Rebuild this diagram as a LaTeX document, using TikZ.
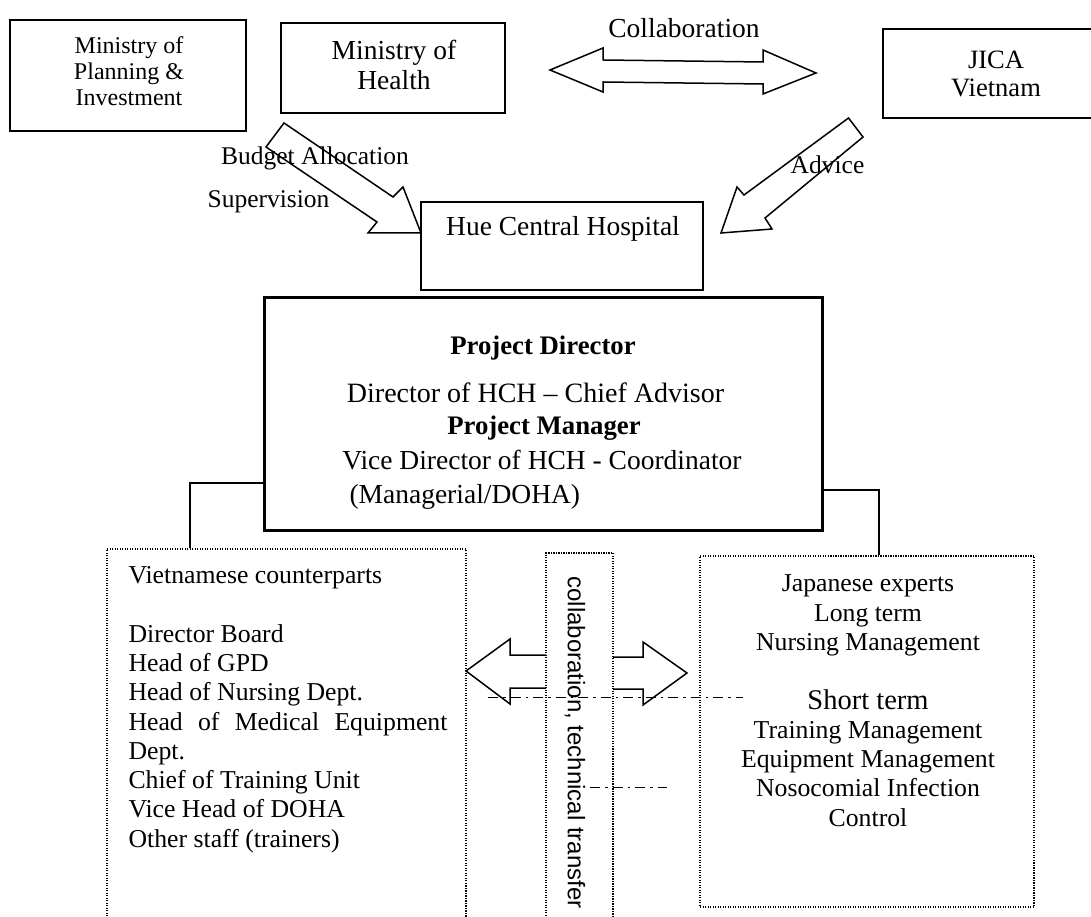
\documentclass[tikz,border=0pt]{standalone}
\usepackage{fontspec}
\setmainfont{Liberation Serif}
\setsansfont{Liberation Sans}
\newcommand\fsz[2]{\fontsize{#1}{#2}\selectfont}
\begin{document}
\begin{tikzpicture}[x=0.4pt,y=-0.4pt,
  boxsz/.style 2 args={minimum width=#1*0.4pt, minimum height=#2*0.4pt},
  solidbox/.style={draw, line width=1pt, inner sep=0pt},
  thinbox/.style={draw, line width=0.7pt, inner sep=0pt},
  thickbox/.style={draw, line width=1.2pt, inner sep=0pt},
  dotbox/.style={draw, line width=0.5pt, dash pattern=on 0.5pt off 0.5pt, inner sep=0pt},
  txt/.style={inner sep=0pt, align=center},
  blockarrow/.style={draw, line width=0.6pt, line join=miter},
  conn/.style={draw, line width=0.7pt},
  scanline/.style={draw, line width=0.4pt, dash pattern=on 4pt off 2pt on 1pt off 2pt},
]
\useasboundingbox (0,0) rectangle (1091,917);

% top row
\node[solidbox, boxsz={236}{111}] (mpi) at (128,75.5) {};
\node[txt, font=\fsz{9.6}{10.4}] (mpit) at (129,71) {Ministry of\\Planning \&\\Investment};
\node[solidbox, boxsz={224}{90}] (moh) at (393,68) {};
\node[txt, font=\fsz{11}{12}] (moht) at (394,65) {Ministry of\\Health};
\node[solidbox, boxsz={217}{89}] (jica) at (991.5,73.5) {};
\node[txt, font=\fsz{10.6}{11.2}] (jicat) at (996,74) {JICA\\Vietnam};

\node[txt, font=\fsz{11}{13}] (collab) at (684,28) {Collaboration};
\draw[blockarrow] (550,70) -- (603,48) -- (603,60) -- (763,62) -- (763,50) -- (816,73)
  -- (763,94) -- (763,84) -- (603,82) -- (603,92) -- cycle;

% hospital
\node[thinbox, boxsz={282}{88}] (hue) at (562,246) {};
\node[txt, font=\fsz{11}{13}] (huet) at (563,229) {Hue Central Hospital};

\draw[blockarrow] (284,123) -- (393,197) -- (403,187) -- (421,233) -- (368,233) -- (377,222) -- (266,147) -- cycle;
\draw[blockarrow] (848.5,118) -- (744,195) -- (737,187) -- (721,233) -- (772,229) -- (765,218) -- (863,137) -- cycle;
\node[txt, font=\fsz{10.2}{12}] (budget) at (315,158) {Budget Allocation};
\node[txt, font=\fsz{10.2}{12}] (superv) at (268.5,202) {Supervision};
\node[txt, font=\fsz{10.2}{12}] (advice) at (827.5,165) {Advice};

% project box
\node[thickbox, boxsz={558}{232}] (proj) at (543,414) {};
\node[txt, font=\bfseries\fsz{10.7}{13}] (pd) at (543,348) {Project Director};
\node[txt, font=\fsz{11.2}{13}] (pdl) at (535.5,393) {Director of HCH -- Chief Advisor};
\node[txt, font=\bfseries\fsz{10.7}{13}] (pm) at (544,428) {Project Manager};
\node[txt, font=\fsz{11}{13}] (pml) at (542,460) {Vice Director of HCH - Coordinator};
\node[txt, anchor=west, font=\fsz{11}{13}] (pmd) at (349,497) {(Managerial/DOHA)};

% lower boxes
\node[dotbox, boxsz={359}{381}] (viet) at (286.5,739.5) {};
\node[dotbox, boxsz={67}{377}] (vert) at (579.5,741.5) {};
\node[dotbox, boxsz={334}{351}] (jap) at (867,731.5) {};

\node[txt, anchor=north west, align=left, font=\fsz{10.3}{11.72}] (vietl) at (128,566)
  {Vietnamese counterparts\\[11.72pt]
   Director Board\\
   Head of GPD\\
   Head of Nursing Dept.\\
   \makebox[127.6pt][s]{Head of Medical Equipment}\\
   Dept.\\
   Chief of Training Unit\\
   Vice Head of DOHA\\
   Other staff (trainers)};
\node[txt, anchor=north, font=\fsz{10.3}{11.72}] (japl) at (868,574.5)
  {Japanese experts\\
   Long term\\
   Nursing Management\\[11.72pt]
   {\fontsize{11.4}{11.72}\selectfont Short term}\\
   Training Management\\
   Equipment Management\\
   Nosocomial Infection\\
   Control};
\node[txt, rotate=-90, font=\sffamily\fsz{9.6}{11}] (vertt) at (575,742.5) {collaboration, technical transfer};

% connectors
\coordinate (cl) at (190,483);
\draw[conn] (proj.west |- cl) -- (cl) -- (cl |- viet.north);
\coordinate (cr) at (879,490);
\draw[conn] (proj.east |- cr) -- (cr) -- (cr |- jap.north);

% transfer arrows
\draw[blockarrow] (546,655) -- (510,655) -- (510,639) -- (466,671) -- (510,704) -- (510,688) -- (546,688);
\draw[blockarrow] (613,657) -- (643,657) -- (643,642) -- (687,673) -- (643,705) -- (643,689) -- (613,689);

% faint scan lines
\draw[scanline] (488,697) -- (743,697);
\draw[scanline] (590,787) -- (667,787);
\end{tikzpicture}
\end{document}
